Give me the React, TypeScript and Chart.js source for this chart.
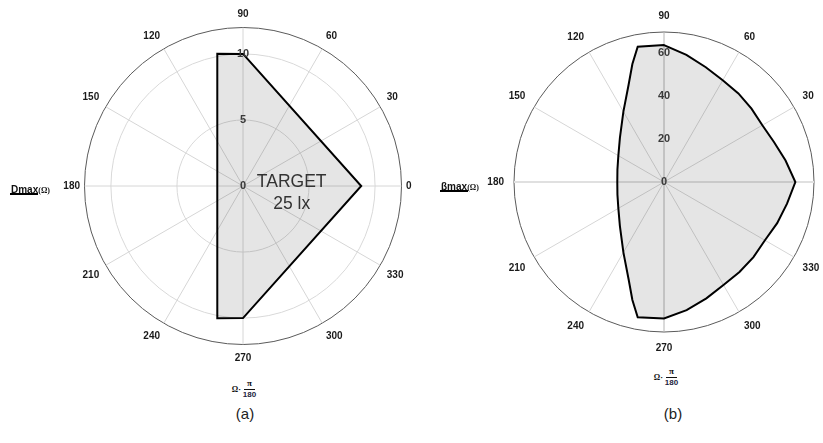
import React, { useEffect, useRef } from "react";
import { Chart, registerables } from "chart.js";

Chart.register(...registerables);

// ---- data ----
// spokes / angle labels (degrees, counter-clockwise from the right)
const SPOKE_STEP = 30;
// chart (a): Dmax(Ω) polygon vertices
const A_ANGLES = [0, 90, 101, 259, 270];
const A_VALUES = [8.95, 10.0, 10.2, 10.2, 10.0];
const A_TICKS = [0, 5, 10];
const A_MAX = 12;
// chart (b): βmax(Ω) curve samples
const B_ANGLES = [0, 10, 20, 30, 40, 50, 60, 70, 80, 90, 101, 105, 110, 120, 135, 150, 165, 180, 195, 210, 225, 240, 250, 255, 259, 270, 280, 290, 300, 310, 320, 330, 340, 350];
const B_VALUES = [61.3, 57.6, 54.6, 53.0, 53.3, 54.0, 54.8, 57.0, 60.2, 63.9, 64.3, 57.0, 48.3, 37.9, 29.1, 24.6, 22.5, 21.8, 22.5, 24.6, 29.1, 37.9, 48.3, 57.0, 64.3, 63.7, 60.7, 57.8, 55.5, 54.8, 54.5, 54.4, 56.2, 58.3];
const B_TICKS = [0, 20, 40, 60];
const B_MAX = 70;

const N = 360;
const idxToDeg = (i: number) => (90 - i + 360) % 360;
const DEG_LABELS = Array.from({ length: N }, (_, i) => idxToDeg(i));

function sparse(angles: number[], values: number[]) {
  const m = new Map<number, number>();
  angles.forEach((a, k) => m.set(a, values[k]));
  return DEG_LABELS.map((d) => (m.has(d) ? (m.get(d) as number) : null));
}

const FONT = "Arial, 'Liberation Sans', sans-serif";

type PolarProps = {
  left: number;
  top: number;
  width: number;
  height: number;
  angles: number[];
  values: number[];
  ticks: number[];
  max: number;
  labelPad: number;
  sidePad: number;
  innerCircles: boolean;
  emphasizeAxes: boolean;
};

function Polar(p: PolarProps) {
  const ref = useRef<HTMLCanvasElement>(null);
  useEffect(() => {
    const chart = new Chart(ref.current as HTMLCanvasElement, {
      type: "radar",
      data: {
        labels: DEG_LABELS,
        datasets: [
          {
            data: sparse(p.angles, p.values) as any,
            borderColor: "#000000",
            borderWidth: 2,
            backgroundColor: "rgba(0,0,0,0.1)",
            fill: "start",
            pointRadius: 0,
            pointHoverRadius: 0,
            spanGaps: true,
            tension: 0,
          },
        ],
      },
      options: {
        animation: false,
        responsive: false,
        maintainAspectRatio: false,
        events: [],
        plugins: { legend: { display: false }, tooltip: { enabled: false } },
        scales: {
          r: {
            min: 0,
            max: p.max,
            startAngle: 0,
            afterBuildTicks: (scale: any) => {
              scale.ticks = [0, ...p.ticks, p.max].map((v) => ({ value: v }));
            },
            ticks: {
              display: true,
              z: 1,
              showLabelBackdrop: false,
              backdropPadding: 0,
              color: "#3a3a3a",
              font: { family: FONT, size: 11, weight: "bold" },
              callback: (v: any) => (v === p.max ? "" : String(v)),
            },
            grid: {
              circular: true,
              color: (ctx: any) => (ctx.tick && ctx.tick.value >= p.max ? "#5a5a5a" : "#d9d9d9"),
              lineWidth: (ctx: any) => {
                const v = ctx.tick ? ctx.tick.value : 0;
                if (v >= p.max) return 1;
                if (v === 0) return 0;
                return p.innerCircles ? 1 : 0;
              },
            },
            angleLines: {
              display: true,
              color: (ctx: any) => {
                const d = idxToDeg(ctx.index);
                if (p.emphasizeAxes && (d === 90 || d === 270)) return "#b4b4b4";
                if (p.emphasizeAxes && (d === 0 || d === 180)) return "#e0e0e0";
                return "#d6d6d6";
              },
              lineWidth: (ctx: any) => {
                const d = idxToDeg(ctx.index);
                if (d % SPOKE_STEP !== 0) return 0;
                if (p.emphasizeAxes && (d === 0 || d === 180)) return 2;
                return 1;
              },
            },
            pointLabels: {
              display: true,
              padding: (ctx: any) => {
                const d = idxToDeg(ctx.index);
                return d === 0 || d === 180 ? p.sidePad : p.labelPad;
              },
              color: "#1a1a1a",
              font: { family: FONT, size: 10, weight: "bold" },
              callback: (l: any) => (Number(l) % SPOKE_STEP === 0 ? String(l) : ""),
            },
          },
        },
      } as any,
    });
    return () => chart.destroy();
  }, []);
  return (
    <canvas
      ref={ref}
      width={p.width}
      height={p.height}
      style={{ position: "absolute", left: p.left, top: p.top, width: p.width, height: p.height }}
    />
  );
}

function AxisTitle({ cx, cy }: { cx: number; cy: number }) {
  return (
    <div
      style={{
        position: "absolute",
        left: cx - 40,
        top: cy - 15,
        width: 80,
        height: 30,
        display: "flex",
        alignItems: "center",
        justifyContent: "center",
        fontFamily: FONT,
        fontWeight: "bold",
        color: "#111",
      }}
    >
      <span style={{ fontFamily: "'Liberation Serif', serif", fontSize: 8, marginRight: 2 }}>Ω·</span>
      <span style={{ display: "inline-flex", flexDirection: "column", alignItems: "center" }}>
        <span style={{ fontFamily: "'Liberation Serif', serif", fontSize: 9, lineHeight: "9px", borderBottom: "1px solid #111", padding: "0 3px 1px" }}>π</span>
        <span style={{ fontSize: 8, lineHeight: "10px", color: "#1c2340" }}>180</span>
      </span>
    </div>
  );
}

function LegendKey({ left, top, name }: { left: number; top: number; name: string }) {
  return (
    <div style={{ position: "absolute", left, top, fontFamily: FONT, color: "#111", whiteSpace: "nowrap" }}>
      <span style={{ fontWeight: "bold", fontSize: 10 }}>{name}</span>
      <span style={{ fontFamily: "'Liberation Serif', serif", fontWeight: "bold", fontSize: 8 }}>(Ω)</span>
      <div style={{ position: "absolute", left: -1, top: 14, width: 28, height: 2, background: "#000" }} />
    </div>
  );
}

export default function App() {
  return (
    <div style={{ position: "absolute", left: 0, top: 0, width: 823, height: 443, overflow: "hidden", background: "#fff" }}>
      <Polar left={33} top={8} width={420} height={356} angles={A_ANGLES} values={A_VALUES} ticks={A_TICKS} max={A_MAX} labelPad={2} sidePad={-1} innerCircles={true} emphasizeAxes={false} />
      <Polar left={454} top={10} width={420} height={344} angles={B_ANGLES} values={B_VALUES} ticks={B_TICKS} max={B_MAX} labelPad={4.5} sidePad={4.5} innerCircles={false} emphasizeAxes={true} />
      <div style={{ position: "absolute", left: 241.7, top: 171, width: 100, textAlign: "center", fontFamily: FONT, fontSize: 17.5, lineHeight: "21.6px", color: "#333" }}>
        TARGET
        <br />
        25 lx
      </div>
      <LegendKey left={11} top={179} name="Dmax" />
      <LegendKey left={441} top={176} name="βmax" />
      <AxisTitle cx={244} cy={389} />
      <AxisTitle cx={666} cy={377} />
      <div style={{ position: "absolute", left: 215, top: 405, width: 60, textAlign: "center", fontFamily: FONT, fontSize: 15, color: "#222" }}>(a)</div>
      <div style={{ position: "absolute", left: 643, top: 405, width: 60, textAlign: "center", fontFamily: FONT, fontSize: 15, color: "#222" }}>(b)</div>
    </div>
  );
}
